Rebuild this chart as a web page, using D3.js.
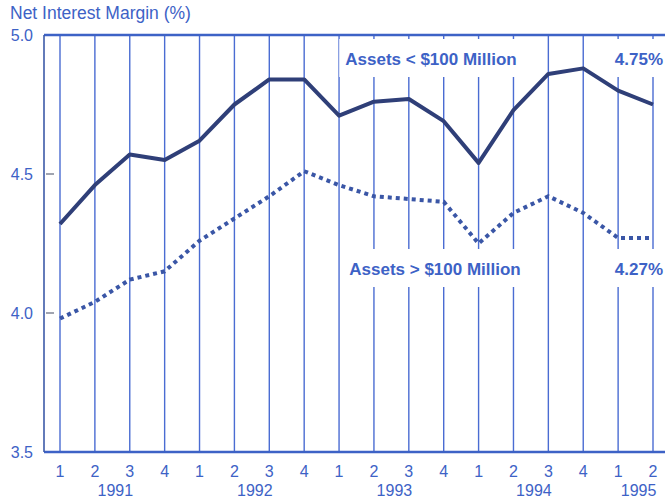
<!DOCTYPE html>
<html>
<head>
    <meta charset="utf-8">
    <title>net-interest-margin</title>
    <style type="text/css">
        body { margin: 0; background: #fff; }
        text { font-family: "Liberation Sans", Arial, sans-serif; fill: #3d62c6; }
        .grid line { stroke: #4a6cd2; stroke-width: 1.4; }
        .tick-label { font-size: 16px; }
        .series-label { font-size: 17px; font-weight: bold; }
    </style>
</head>
<body>
<script src="https://cdn.jsdelivr.net/npm/d3@7"></script>
<script type="text/javascript">
    /*=========DATA=========*/
    var quarters = ['1', '2', '3', '4', '1', '2', '3', '4', '1', '2', '3', '4', '1', '2', '3', '4', '1', '2'];
    var years = ['1991', '1992', '1993', '1994', '1995'];
    // quarter index each year label is centered on
    var yearPos = [1.5, 5.5, 9.5, 13.5, 16.5];
    var smallBanks = [4.32, 4.46, 4.57, 4.55, 4.62, 4.75, 4.84, 4.84, 4.71, 4.76, 4.77, 4.69, 4.54, 4.73, 4.86, 4.88, 4.80, 4.75];
    var largeBanks = [3.98, 4.04, 4.12, 4.15, 4.26, 4.34, 4.42, 4.51, 4.46, 4.42, 4.41, 4.40, 4.25, 4.36, 4.42, 4.36, 4.27, 4.27];
    var yTicks = [3.5, 4.0, 4.5, 5.0];

    /*=====SIZE SVG======*/
    var svgWidth = 665;
    var svgHeight = 499;
    var plot = { left: 44, right: 665, top: 35, bottom: 452 };

    // 比例尺
    var x = d3.scaleLinear().domain([0, quarters.length - 1]).range([60, 653]);
    var y = d3.scaleLinear().domain([3.5, 5.0]).range([plot.bottom, plot.top]);

    var svg = d3.select("body").append("svg")
        .attr("width", svgWidth).attr("height", svgHeight);

    svg.append("text").attr("x", 10).attr("y", 19)
        .style("font-size", "17.5px")
        .text("Net Interest Margin (%)");

    // vertical grid
    svg.append("g").attr("class", "grid")
        .selectAll("line").data(quarters).enter().append("line")
        .attr("x1", (d, i) => x(i)).attr("x2", (d, i) => x(i))
        .attr("y1", plot.top).attr("y2", plot.bottom);

    // y ticks
    svg.selectAll(".ylab").data(yTicks).enter().append("text")
        .attr("class", "tick-label ylab")
        .attr("x", 33).attr("y", d => y(d) + 6)
        .attr("text-anchor", "end")
        .text(d => d.toFixed(1));
    svg.selectAll(".ymark").data([4.0, 4.5]).enter().append("line")
        .attr("x1", plot.left + 2).attr("x2", plot.left + 10)
        .attr("y1", d => y(d)).attr("y2", d => y(d))
        .attr("stroke", "#a0a4b0").attr("stroke-width", 2);

    // frame
    svg.append("line").attr("x1", plot.left).attr("x2", plot.right).attr("y1", plot.top).attr("y2", plot.top)
        .attr("stroke", "#3d62c6").attr("stroke-width", 2.5);
    svg.append("line").attr("x1", plot.left).attr("x2", plot.right).attr("y1", plot.bottom).attr("y2", plot.bottom)
        .attr("stroke", "#3d62c6").attr("stroke-width", 2.5);
    svg.append("line").attr("x1", plot.left).attr("x2", plot.left).attr("y1", plot.top).attr("y2", plot.bottom)
        .attr("stroke", "#3d5aa8").attr("stroke-width", 1.6);

    // x labels
    svg.selectAll(".qlab").data(quarters).enter().append("text")
        .attr("class", "tick-label qlab")
        .attr("x", (d, i) => x(i)).attr("y", 477)
        .attr("text-anchor", "middle").text(d => d);
    svg.selectAll(".yrlab").data(years).enter().append("text")
        .attr("class", "tick-label yrlab")
        .attr("x", (d, i) => x(yearPos[i]) + 3).attr("y", 496)
        .attr("text-anchor", "middle").text(d => d);

    // lines
    var line = d3.line().x((d, i) => x(i)).y(d => y(d));
    svg.append("path").datum(largeBanks).attr("d", line)
        .attr("fill", "none").attr("stroke", "#3a56a6").attr("stroke-width", 4)
        .attr("stroke-dasharray", "4,4");
    svg.append("path").datum(smallBanks).attr("d", line)
        .attr("fill", "none").attr("stroke", "#2f3f78").attr("stroke-width", 4)
        .attr("stroke-linejoin", "round");

    // series labels with white backgrounds
    function label(txt, xPos, yPos, anchor) {
        var t = svg.append("text").attr("class", "series-label")
            .attr("x", xPos).attr("y", yPos).attr("text-anchor", anchor).text(txt);
        var b = t.node().getBBox();
        svg.insert("rect", "text.series-label")
            .attr("x", b.x - 6).attr("y", yPos - 26)
            .attr("width", b.width + 12).attr("height", 38)
            .attr("fill", "#fff");
    }
    label("Assets < $100 Million", 431, 65, "middle");
    label("4.75%", 663, 65, "end");
    label("Assets > $100 Million", 435, 275, "middle");
    label("4.27%", 663, 275, "end");
</script>
</body>
</html>
